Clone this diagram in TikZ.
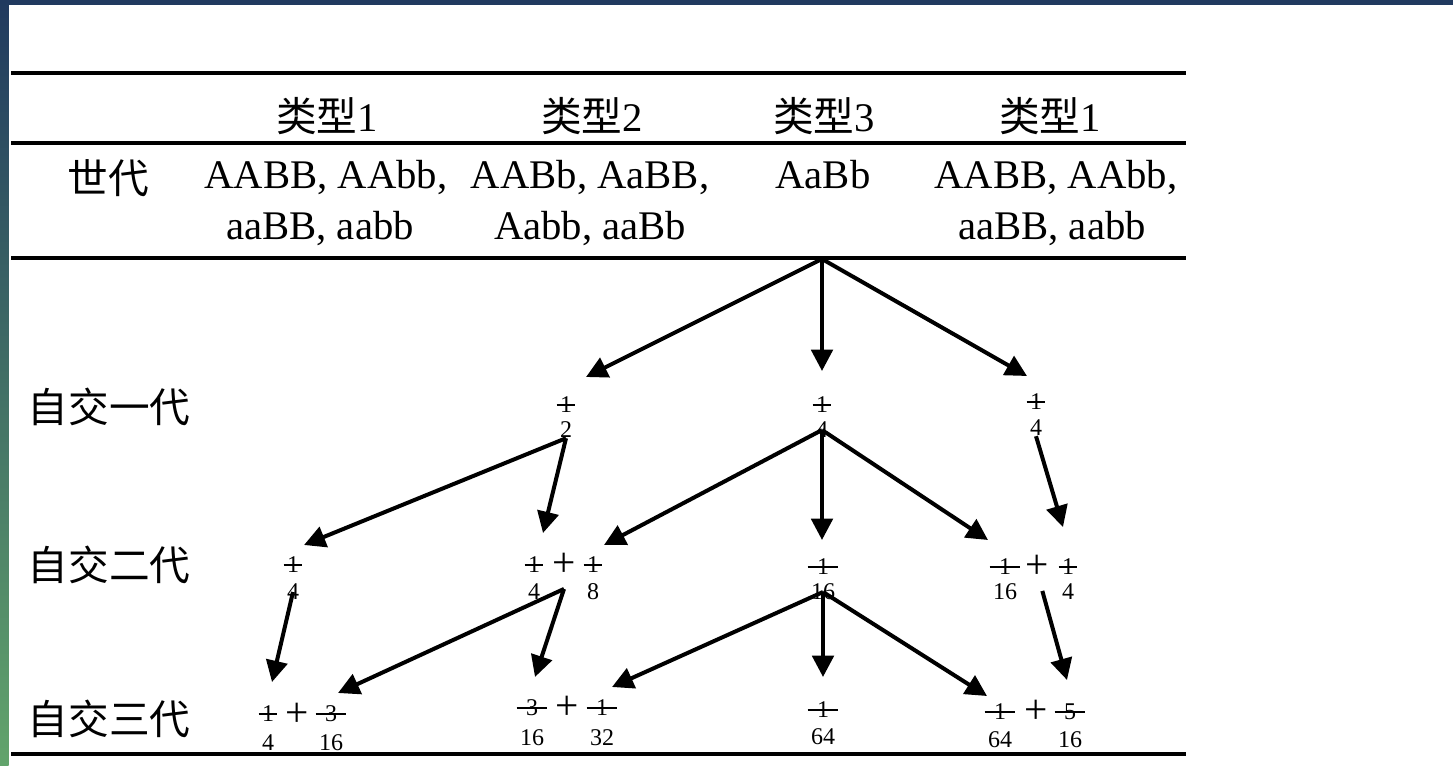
\documentclass[tikz,border=0pt]{standalone}
\usepackage{fontspec}
\setmainfont{Liberation Serif}
\newfontfamily\cjk{Noto Sans CJK SC}
\usetikzlibrary{arrows.meta}
\definecolor{navy}{RGB}{33,58,95}
\definecolor{midteal}{RGB}{62,110,100}
\definecolor{leaf}{RGB}{98,164,108}
\tikzset{
  rulel/.style={line width=3pt},
  txt/.style={inner sep=0pt, anchor=base, font=\fontsize{30.5}{37}\selectfont},
  gen/.style={inner sep=0pt, anchor=center, font=\fontsize{30.5}{37}\selectfont\cjk},
  fnum/.style={inner sep=0pt, font=\fontsize{18}{21}\selectfont},
  fden/.style={inner xsep=2.4pt, inner ysep=0pt, font=\fontsize{18}{21}\selectfont},
  plus/.style={inner sep=0pt, font=\fontsize{31}{37}\selectfont},
  strike/.style={line width=0.9pt},
  arr/.style={line width=3pt, -{Triangle[length=16pt,width=16pt]}},
}
% name, x, y numerator, y denominator, numerator, denominator
\newcommand\fracnode[6]{%
  \node[fnum] (#1n) at (#2,#3) {#5};
  \node[fden] (#1d) at (#2,#4) {#6};
  \draw[strike] (#1d.west |- #1n.center) -- (#1d.east |- #1n.center);
}
\begin{document}
\begin{tikzpicture}[x=0.75pt,y=-0.75pt]
\fill[white] (0,0) rectangle (1453,765);
\useasboundingbox (0,0) rectangle (1453,765);
% frame decoration
\fill[navy] (0,0) rectangle (1453,5);
\shade[top color=navy, middle color=midteal, bottom color=leaf] (0,0) rectangle (8.5,765);

% table rules
\draw[rulel] (11,73) -- (1186,73);
\draw[rulel] (11,143) -- (1186,143);
\draw[rulel] (11,258) -- (1186,258);
\draw[rulel] (11,754) -- (1186,754);

% header
\node[txt] (h1) at (327,131) {{\cjk 类型}1};
\node[txt] (h2) at (592,131) {{\cjk 类型}2};
\node[txt] (h3) at (824,131) {{\cjk 类型}3};
\node[txt] (h4) at (1050,131) {{\cjk 类型}1};

% generation row
\node[gen] (shidai) at (108,178) {世代};
\node[txt] (c1a) at (326,188) {AABB, AAbb,};
\node[txt] (c2a) at (590,188) {AABb, AaBB,};
\node[txt] (c3a) at (823,188) {AaBb};
\node[txt] (c4a) at (1056,188) {AABB, AAbb,};
\node[txt] (c1b) at (320,239) {aaBB, aabb};
\node[txt] (c2b) at (590,239) {Aabb, aaBb};
\node[txt] (c4b) at (1052,239) {aaBB, aabb};

% generation labels
\node[gen] (l1) at (109,407) {自交一代};
\node[gen] (l2) at (109,565) {自交二代};
\node[gen] (l3) at (109,719) {自交三代};

% first selfing
\fracnode{g1a}{566}{405}{430}{1}{2}
\fracnode{g1b}{822}{405}{430}{1}{4}
\fracnode{g1c}{1036}{402}{428}{1}{4}

% second selfing
\fracnode{g2a}{293}{565}{592}{1}{4}
\fracnode{g2b}{534}{565}{592}{1}{4}
\node[plus] (g2bp) at (564,565) {+};
\fracnode{g2bb}{593}{565}{592}{1}{8}
\fracnode{g2c}{823}{567}{592}{1}{16}
\fracnode{g2d}{1005}{567}{592}{1}{16}
\node[plus] (g2dp) at (1037,567) {+};
\fracnode{g2dd}{1068}{567}{592}{1}{4}

% third selfing
\fracnode{g3a}{268}{714}{743}{1}{4}
\node[plus] (g3ap) at (297,715) {+};
\fracnode{g3aa}{331}{714}{743}{3}{16}
\fracnode{g3b}{532}{708}{738}{3}{16}
\node[plus] (g3bp) at (567,708) {+};
\fracnode{g3bb}{602}{708}{738}{1}{32}
\fracnode{g3c}{823}{710}{737}{1}{64}
\fracnode{g3d}{1000}{712}{740}{1}{64}
\node[plus] (g3dp) at (1036,712) {+};
\fracnode{g3dd}{1070}{712}{740}{5}{16}

% arrow origins and tips
\coordinate (root) at (822,259);
\coordinate (t1) at (586,377);
\coordinate (t2) at (822,371);
\coordinate (t3) at (1027,376);
\coordinate (t4) at (304,545);
\coordinate (t5) at (543,533);
\coordinate (t6) at (604,545);
\coordinate (t7) at (822,540);
\coordinate (t8) at (988,540);
\coordinate (t9) at (1063,527);
\coordinate (t10) at (272,682);
\coordinate (t11) at (338,693);
\coordinate (t12) at (535,677);
\coordinate (t13) at (612,687);
\coordinate (t14) at (823,677);
\coordinate (t15) at (987,696);
\coordinate (t16) at (1067,680);

\draw[arr] (root) -- (t1);
\draw[arr] (root) -- (t2);
\draw[arr] (root) -- (t3);
\draw[arr] (g1ad.south) -- (t4);
\draw[arr] (g1ad.south) -- (t5);
\draw[arr] (g1bd.center) -- (t6);
\draw[arr] (g1bd.center) -- (t7);
\draw[arr] (g1bd.center) -- (t8);
\draw[arr] (g1cd.south) -- (t9);
\draw[arr] (g2ad.center) -- (t10);
\draw[arr] ([yshift=-9pt]g2bp.south) -- (t11);
\draw[arr] ([yshift=-9pt]g2bp.south) -- (t12);
\draw[arr] (g2cd.center) -- (t13);
\draw[arr] (g2cd.center) -- (t14);
\draw[arr] (g2cd.center) -- (t15);
\draw[arr] ([xshift=4pt,yshift=-9pt]g2dp.south) -- (t16);
\end{tikzpicture}
\end{document}
